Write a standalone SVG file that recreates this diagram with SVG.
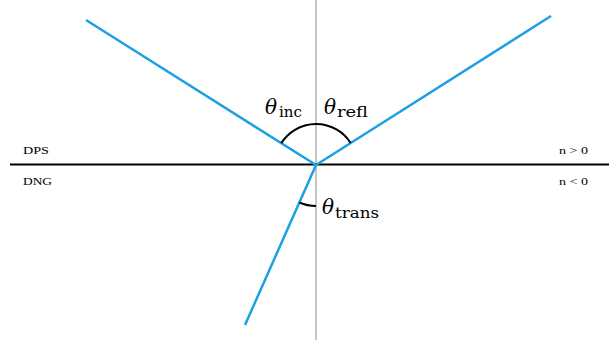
<svg xmlns="http://www.w3.org/2000/svg" width="609" height="340" viewBox="0 0 609 340">
<style>
.ray{stroke:#1BA1E2;stroke-width:2.5;fill:none;stroke-linecap:butt}
.arc{stroke:#000;stroke-width:2;fill:none}
text{font-family:'DejaVu Serif',serif;fill:#000}
.th{font-style:italic;font-size:20px}
.sub{font-size:15px}
.lab{font-family:'Liberation Serif',serif;font-size:11px}
</style>
<rect width="609" height="340" fill="#fff"/>
<g id="connectors">
<line id="normal" x1="316" y1="0" x2="316" y2="340" stroke="#c4c4c4" stroke-width="2"/>
<line id="interface" x1="10" y1="164.5" x2="609" y2="164.5" stroke="#000" stroke-width="2"/>
<line id="incident" class="ray" x1="86" y1="20" x2="316" y2="165"/>
<line id="reflected" class="ray" x1="316" y1="165" x2="551" y2="16"/>
<line id="transmitted" class="ray" x1="316" y1="165" x2="245" y2="325"/>
<path id="arc-inc-refl" class="arc" d="M281.3 143.1 A41 41 0 0 1 350.6 143"/>
<path id="arc-trans" class="arc" d="M299.4 202.5 A41 41 0 0 0 316 206"/>
</g>
<g id="label-inc"><text class="th" x="265" y="113.5">θ</text><text class="sub" x="279" y="117" textLength="23" lengthAdjust="spacingAndGlyphs">inc</text></g>
<g id="label-refl"><text class="th" x="324" y="113.5">θ</text><text class="sub" x="337" y="117" textLength="31" lengthAdjust="spacingAndGlyphs">refl</text></g>
<g id="label-trans"><text class="th" x="322" y="214">θ</text><text class="sub" x="335" y="218" textLength="44" lengthAdjust="spacingAndGlyphs">trans</text></g>
<g id="label-dps"><text class="lab" x="23" y="154" textLength="26" lengthAdjust="spacingAndGlyphs">DPS</text></g>
<g id="label-dng"><text class="lab" x="23" y="185" textLength="29" lengthAdjust="spacingAndGlyphs">DNG</text></g>
<g id="label-npos"><text class="lab" x="559" y="154" textLength="29" lengthAdjust="spacingAndGlyphs">n &gt; 0</text></g>
<g id="label-nneg"><text class="lab" x="559" y="185" textLength="29" lengthAdjust="spacingAndGlyphs">n &lt; 0</text></g>
</svg>
